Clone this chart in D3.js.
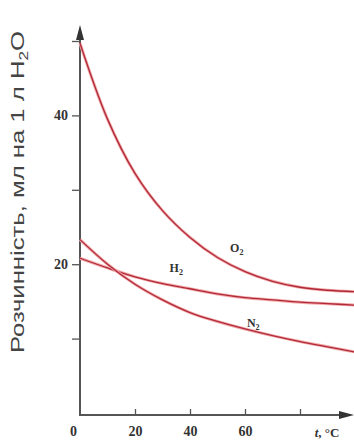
<!DOCTYPE html>
<html>
<head>
<meta charset="utf-8">
<script src="https://cdn.jsdelivr.net/npm/d3@7"></script>
<style>
body { margin: 0; background: #fff; }
svg { display: block; }
.tick line { stroke: #555; stroke-width: 1.3; }
.tick text { font-family: "Liberation Serif", serif; font-weight: bold; font-size: 14px; fill: #333; }
</style>
</head>
<body>
<div id="chart"></div>
<script>
var temps = [0, 10, 20, 30, 40, 50, 60, 70, 80, 90, 100];
var o2 = [49.7, 39.5, 32.2, 27.2, 23.6, 20.9, 19.0, 17.7, 16.9, 16.5, 16.3];
var h2 = [20.8, 19.5, 18.3, 17.4, 16.7, 16.0, 15.5, 15.2, 14.9, 14.7, 14.5];
var n2 = [23.3, 20.0, 17.3, 15.2, 13.5, 12.3, 11.3, 10.4, 9.6, 8.9, 8.2];
var seriesNames = ['O', 'H', 'N'];
var xTicks = [0, 20, 40, 60, 80];
var yTicks = [10, 20, 30, 40, 50];
var yLabels = [20, 40];

var width = 354;
var height = 445;

var x = d3.scaleLinear().domain([0, 100]).range([80, 355]);
var y = d3.scaleLinear().domain([0, 50]).range([413, 41]);

var svg = d3.select('#chart')
	.append('svg')
	.attr('width', width)
	.attr('height', height);

var axisColor = '#555';

// y axis
svg.append('g')
	.attr('transform', 'translate(80,0)')
	.call(d3.axisLeft(y)
		.tickValues(yTicks)
		.tickSize(8)
		.tickPadding(4)
		.tickFormat(function(d) { return yLabels.indexOf(d) >= 0 ? d : ''; }))
	.call(function(g) { g.select('.domain').remove(); });

// x axis
var xg = svg.append('g')
	.attr('transform', 'translate(0,415)')
	.call(d3.axisBottom(x)
		.tickValues(xTicks)
		.tickSize(-6)
		.tickPadding(11)
		.tickFormat(function(d) { return d == 80 ? '' : d; }))
	.call(function(g) { g.select('.domain').remove(); });
xg.selectAll('.tick').filter(function(d) { return d == 0; })
	.select('line').remove();
xg.selectAll('.tick').filter(function(d) { return d == 0; })
	.select('text').attr('dx', -7);

svg.append('line')
	.attr('x1', 80).attr('x2', 80)
	.attr('y1', 416).attr('y2', 36)
	.attr('stroke', axisColor).attr('stroke-width', 2);
svg.append('line')
	.attr('x1', 79).attr('x2', 344)
	.attr('y1', 415).attr('y2', 415)
	.attr('stroke', axisColor).attr('stroke-width', 2);
svg.append('path')
	.attr('d', 'M80,25 L76,40 L84,40 Z')
	.attr('fill', '#333');
svg.append('path')
	.attr('d', 'M354,415 L339,411 L339,419 Z')
	.attr('fill', '#333');

var tl = svg.append('text')
	.attr('x', 327).attr('y', 437)
	.attr('text-anchor', 'middle')
	.style('font-family', '"Liberation Serif", serif')
	.style('font-weight', 'bold')
	.style('font-size', '13px')
	.attr('fill', '#333');
tl.append('tspan').style('font-style', 'italic').text('t');
tl.append('tspan').text(', °C');

// y title
var yt = svg.append('text')
	.attr('transform', 'translate(24,192) rotate(-90)')
	.attr('text-anchor', 'middle')
	.attr('textLength', 322)
	.attr('lengthAdjust', 'spacingAndGlyphs')
	.style('font-family', '"Liberation Sans", Arial, sans-serif')
	.style('font-size', '18px')
	.attr('fill', '#444');
yt.append('tspan').text('Розчинність, мл на 1 л H');
yt.append('tspan').attr('dy', 4).style('font-size', '12px').text('2');
yt.append('tspan').attr('dy', -4).text('O');

// curves
var line = d3.line()
	.x(function(d, i) { return x(temps[i]); })
	.y(function(d) { return y(d); })
	.curve(d3.curveCatmullRom.alpha(0.5));

[o2, h2, n2].forEach(function(s) {
	svg.append('path')
		.datum(s)
		.attr('d', line)
		.attr('fill', 'none')
		.attr('stroke', '#f2a8a8')
		.attr('stroke-width', 3);
	svg.append('path')
		.datum(s)
		.attr('d', line)
		.attr('fill', 'none')
		.attr('stroke', '#b02a3a')
		.attr('stroke-width', 1.3);
});

// series labels
var labelPos = [[x(57), y(21.6)], [x(35), y(19.0)], [x(63), y(11.6)]];
seriesNames.forEach(function(n, i) {
	var t = svg.append('text')
		.attr('x', labelPos[i][0]).attr('y', labelPos[i][1])
		.attr('text-anchor', 'middle')
		.style('font-family', '"Liberation Serif", serif')
		.style('font-weight', 'bold')
		.style('font-size', '12px')
		.attr('fill', '#333');
	t.append('tspan').text(n);
	t.append('tspan').attr('dy', 3).style('font-size', '8px').text('2');
});
</script>
</body>
</html>
